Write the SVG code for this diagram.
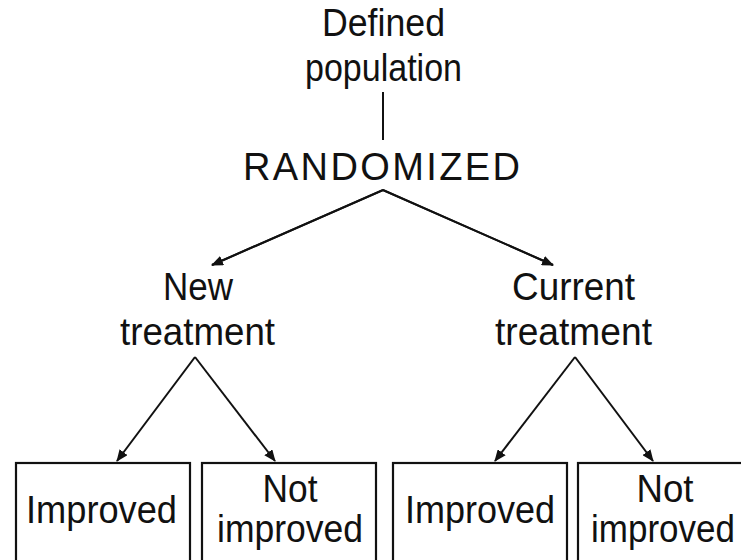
<svg xmlns="http://www.w3.org/2000/svg" width="741" height="560" viewBox="0 0 741 560">
<style>
text{font-family:"Liberation Sans",Arial,Helvetica,sans-serif;font-size:38px;fill:#111;text-anchor:middle}
.c{stroke:#111;stroke-width:2;fill:none}
.box{stroke:#111;stroke-width:2.2;fill:#fff}
</style>
<defs>
<marker id="ah" viewBox="0 0 12 10" refX="11" refY="5" markerWidth="12" markerHeight="10" markerUnits="userSpaceOnUse" orient="auto">
<path d="M0,0 L12,5 L0,10 Z" fill="#111"/>
</marker>
</defs>
<rect width="741" height="560" fill="#fff"/>
<g id="connectors">
<line class="c" x1="383" y1="92" x2="383" y2="140"/>
<polyline class="c" points="212,265 383,190 553,265" stroke-linejoin="miter"/>
<line class="c" x1="383" y1="190" x2="212" y2="265" marker-end="url(#ah)"/>
<line class="c" x1="383" y1="190" x2="553" y2="265" marker-end="url(#ah)"/>
<line class="c" x1="195" y1="357" x2="117" y2="461" marker-end="url(#ah)"/>
<line class="c" x1="195" y1="357" x2="275" y2="461" marker-end="url(#ah)"/>
<line class="c" x1="575" y1="357" x2="495" y2="461" marker-end="url(#ah)"/>
<line class="c" x1="575" y1="357" x2="653" y2="461" marker-end="url(#ah)"/>
</g>
<g id="population">
<text x="383.5" y="36" textLength="123" lengthAdjust="spacingAndGlyphs">Defined</text>
<text x="383.5" y="81" textLength="157" lengthAdjust="spacingAndGlyphs">population</text>
</g>
<g id="randomized">
<text x="381.5" y="180" textLength="277" lengthAdjust="spacing">RANDOMIZED</text>
</g>
<g id="new-treatment">
<text x="198" y="300" textLength="70" lengthAdjust="spacingAndGlyphs">New</text>
<text x="197.5" y="345" textLength="155" lengthAdjust="spacingAndGlyphs">treatment</text>
</g>
<g id="current-treatment">
<text x="573.5" y="300" textLength="123" lengthAdjust="spacingAndGlyphs">Current</text>
<text x="573.5" y="345" textLength="157" lengthAdjust="spacingAndGlyphs">treatment</text>
</g>
<g id="new-improved">
<rect class="box" x="16" y="463" width="174" height="110"/>
<text x="101.5" y="523" textLength="151" lengthAdjust="spacingAndGlyphs">Improved</text>
</g>
<g id="new-not-improved">
<rect class="box" x="202" y="463" width="174" height="110"/>
<text x="290" y="502" textLength="55" lengthAdjust="spacingAndGlyphs">Not</text>
<text x="290" y="542" textLength="146" lengthAdjust="spacingAndGlyphs">improved</text>
</g>
<g id="current-improved">
<rect class="box" x="393" y="463" width="174" height="110"/>
<text x="480" y="523" textLength="150" lengthAdjust="spacingAndGlyphs">Improved</text>
</g>
<g id="current-not-improved">
<rect class="box" x="578" y="463" width="174" height="110"/>
<text x="665" y="502" textLength="57" lengthAdjust="spacingAndGlyphs">Not</text>
<text x="663" y="542" textLength="144" lengthAdjust="spacingAndGlyphs">improved</text>
</g>
</svg>
